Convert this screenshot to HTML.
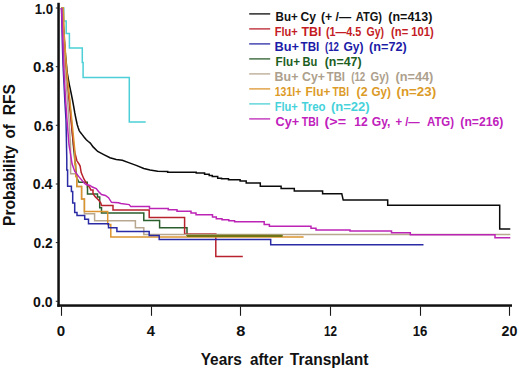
<!DOCTYPE html>
<html><head><meta charset="utf-8"><style>
html,body{margin:0;padding:0;background:#fff;}
svg{display:block;}
text{font-family:"Liberation Sans",sans-serif;font-weight:bold;}
.leg text{font-size:12px;stroke-width:0px;}
.yl{font-size:14px;fill:#111;}
.xl{font-size:14px;fill:#111;}
.curves polyline{fill:none;stroke-width:1.5;stroke-linejoin:miter;}
</style></head><body>
<svg width="520" height="372" viewBox="0 0 520 372">
<rect width="520" height="372" fill="#fff"/>
<g class="curves">
<polyline points="61.5,8.0 62.8,20.0 63.8,32.0 64.7,45.0 65.6,56.0 66.4,64.0 67.1,72.0 68.3,79.0 69.5,85.3 71.0,92.5 72.5,100.0 73.6,106.0 74.8,113.0 76.0,119.0 77.2,124.5 78.2,127.8 79.2,130.6 80.7,132.8 82.2,134.6 84.2,137.2 86.3,139.7 88.3,141.5 90.3,143.1 93.1,146.9 97.7,151.5 103.8,154.6 110.0,157.7 116.2,159.5 122.3,160.3 130.0,163.1 136.2,165.4 143.8,168.5 150.0,170.0 157.7,171.2 167.7,171.4 167.7,171.4 167.7,172.2 196.2,172.2 196.2,173.1 204.6,173.1 204.6,174.2 209.2,174.2 209.2,175.4 212.3,175.4 212.3,176.5 217.7,176.5 217.7,178.2 221.5,178.2 221.5,178.8 228.5,178.8 228.5,179.7 240.1,179.7 240.1,181.0 246.2,181.0 246.2,183.1 260.3,183.1 260.3,186.2 281.1,186.2 281.1,188.6 294.3,188.6 294.3,190.9 322.6,190.9 322.6,193.8 341.8,193.8 341.8,193.8 343.2,200.1 387.7,200.1 387.7,205.3 499.7,205.3 499.7,229.0 510.3,229.0" stroke="#0a0a0a" stroke-width="1.65"/>
<polyline points="61.5,8.0 63.8,8.0 63.8,21.0 66.2,21.0 66.2,33.6 69.4,33.6 69.4,47.9 82.3,47.9 82.3,62.5 83.1,62.5 83.1,77.4 129.3,77.4 129.3,122.0 145.7,122.0" stroke="#4ccfd6"/>
<polyline points="61.5,8.0 62.4,8.0 63.1,20.0 63.6,32.0 64.5,45.0 65.8,64.0 67.3,80.0 69.5,100.0 71.3,120.0 73.3,145.0 75.3,165.0 76.9,178.0 79.0,182.3 87.3,182.3 87.3,187.0 87.5,187.0 87.5,194.0 97.5,194.0 97.5,197.0 99.7,197.0 99.7,207.7 101.5,207.7 101.5,213.0 143.8,213.0 143.8,220.4 159.6,220.4 159.6,227.7 187.0,227.7 187.0,235.6 282.5,235.6" stroke="#2a5e2c"/>
<polyline points="61.5,8.0 62.6,8.0 63.2,20.0 63.5,32.0 64.3,45.0 65.6,64.0 67.0,80.0 69.0,100.0 71.0,120.0 72.5,135.0 74.2,150.0 76.9,160.8 79.0,164.0 80.1,166.1 81.2,172.6 83.9,179.0 87.1,184.4 89.8,187.6 90.8,190.0 93.0,190.0 93.0,193.8 95.4,196.9 97.0,198.5 99.2,200.8 100.8,203.0 101.5,205.4 113.0,205.4 113.0,210.0 149.2,210.0 149.2,217.5 184.6,217.5 184.6,234.0 215.8,234.0 215.8,256.5 242.8,256.5" stroke="#b8222c"/>
<polyline points="61.5,8.0 62.2,8.0 62.8,20.0 63.0,32.0 63.6,45.0 64.5,64.0 66.0,80.0 67.5,100.0 69.0,120.0 70.5,145.0 70.6,150.0 70.6,150.0 70.6,173.8 75.8,173.8 75.8,176.5 76.8,176.5 76.8,186.5 81.6,186.5 81.6,199.0 84.4,199.0 84.4,213.8 94.6,213.8 94.6,220.8 135.4,220.8 135.4,227.7 143.8,227.7 143.8,234.4 510.3,234.4" stroke="#b8a890"/>
<polyline points="61.5,8.0 63.3,8.0 63.9,20.0 64.0,32.0 65.0,45.0 66.2,64.0 67.6,80.0 69.8,100.0 71.8,120.0 74.3,145.0 74.8,150.0 74.8,150.0 74.8,164.0 75.8,164.0 75.8,176.5 76.8,176.5 76.8,186.5 81.6,186.5 81.6,199.0 84.4,199.0 84.4,211.5 107.7,211.5 107.7,224.6 110.8,224.6 110.8,237.1 303.6,237.1" stroke="#dc9430"/>
<polyline points="61.5,8.0 61.8,20.0 62.1,32.0 62.4,45.0 63.0,64.0 63.8,80.0 64.8,100.0 66.0,120.0 66.5,145.0 66.8,160.0 66.8,170.0 67.6,170.0 67.6,170.0 67.6,186.2 71.4,186.2 71.4,191.5 72.7,191.5 72.7,203.0 74.7,203.0 74.7,212.5 77.0,212.5 77.0,215.5 84.7,215.5 84.7,219.2 88.5,219.2 88.5,223.8 108.5,223.8 108.5,227.7 116.9,227.7 116.9,231.5 149.2,231.5 149.2,235.6 159.2,235.6 159.2,239.6 270.7,239.6 270.7,244.8 423.5,244.8" stroke="#2b2ba6"/>
<polyline points="61.5,8.0 62.0,20.0 62.5,32.0 63.0,45.0 63.6,64.0 64.4,80.0 65.6,100.0 67.0,120.0 69.0,145.0 69.9,150.0 72.1,164.0 74.8,171.5 79.0,176.9 84.4,183.3 86.2,184.6 90.0,185.4 92.3,187.0 96.2,188.5 98.5,191.5 101.5,194.6 105.4,195.4 108.5,197.7 111.5,202.3 118.5,202.8 120.8,203.5 129.2,204.6 130.8,206.6 149.5,206.6 149.5,208.5 168.3,208.5 168.3,209.8 177.0,209.8 177.0,211.2 191.0,211.2 191.0,213.0 196.0,213.0 196.0,214.8 212.5,214.8 212.5,217.1 216.3,217.1 216.3,218.7 222.0,218.7 222.0,219.8 228.8,219.8 228.8,220.8 234.6,220.8 234.6,221.8 264.2,221.8 264.2,224.6 269.4,224.6 269.4,226.3 311.0,226.3 311.0,228.2 316.0,228.2 316.0,229.9 350.0,229.9 350.0,231.0 391.5,231.0 391.5,232.7 410.3,232.7 410.3,234.8 495.0,234.8 495.0,237.8 510.3,237.8" stroke="#bc24b6"/>
<line x1="187" y1="235.9" x2="282.5" y2="235.9" stroke="#6f7514" stroke-width="2.4"/>
</g>
<rect x="57.3" y="2.8" width="2.5" height="304" fill="#111"/>
<rect x="57.3" y="304.3" width="454.7" height="2.5" fill="#111"/>
<line x1="55.8" y1="8.0" x2="58" y2="8.0" stroke="#222" stroke-width="1"/>
<text class="yl" x="34.66" y="14.3" textLength="18.39" lengthAdjust="spacingAndGlyphs">1.0</text>
<line x1="55.8" y1="66.7" x2="58" y2="66.7" stroke="#222" stroke-width="1"/>
<text class="yl" x="32.94" y="72.1" textLength="20.76" lengthAdjust="spacingAndGlyphs">0.8</text>
<line x1="55.8" y1="125.3" x2="58" y2="125.3" stroke="#222" stroke-width="1"/>
<text class="yl" x="33.74" y="130.7" textLength="19.76" lengthAdjust="spacingAndGlyphs">0.6</text>
<line x1="55.8" y1="184.0" x2="58" y2="184.0" stroke="#222" stroke-width="1"/>
<text class="yl" x="32.79" y="189.4" textLength="19.67" lengthAdjust="spacingAndGlyphs">0.4</text>
<line x1="55.8" y1="242.6" x2="58" y2="242.6" stroke="#222" stroke-width="1"/>
<text class="yl" x="33.56" y="248.0" textLength="19.13" lengthAdjust="spacingAndGlyphs">0.2</text>
<line x1="55.8" y1="301.3" x2="58" y2="301.3" stroke="#222" stroke-width="1"/>
<text class="yl" x="33.14" y="306.7" textLength="19.55" lengthAdjust="spacingAndGlyphs">0.0</text>
<line x1="61.5" y1="306.5" x2="61.5" y2="315.8" stroke="#1a1a1a" stroke-width="1.1"/>
<text class="xl" x="56.87" y="335.6" textLength="8.40" lengthAdjust="spacingAndGlyphs">0</text>
<line x1="151.5" y1="306.5" x2="151.5" y2="315.8" stroke="#1a1a1a" stroke-width="1.1"/>
<text class="xl" x="146.80" y="335.6" textLength="8.19" lengthAdjust="spacingAndGlyphs">4</text>
<line x1="240.5" y1="306.5" x2="240.5" y2="315.8" stroke="#1a1a1a" stroke-width="1.1"/>
<text class="xl" x="236.20" y="335.6" textLength="9.12" lengthAdjust="spacingAndGlyphs">8</text>
<line x1="330.5" y1="306.5" x2="330.5" y2="315.8" stroke="#1a1a1a" stroke-width="1.1"/>
<text class="xl" x="324.12" y="335.6" textLength="12.99" lengthAdjust="spacingAndGlyphs">12</text>
<line x1="420.5" y1="306.5" x2="420.5" y2="315.8" stroke="#1a1a1a" stroke-width="1.1"/>
<text class="xl" x="412.66" y="335.6" textLength="14.68" lengthAdjust="spacingAndGlyphs">16</text>
<line x1="509.5" y1="306.5" x2="509.5" y2="315.8" stroke="#1a1a1a" stroke-width="1.1"/>
<text class="xl" x="501.60" y="335.6" textLength="15.80" lengthAdjust="spacingAndGlyphs">20</text>
<g class="leg">
<line x1="249.2" y1="13.9" x2="270.2" y2="13.9" stroke="#0a0a0a" stroke-width="1.3"/>
<text x="275.62" y="20.6" fill="#111111" stroke="#111111" textLength="22.20" lengthAdjust="spacingAndGlyphs" xml:space="preserve">Bu+</text>
<text x="300.40" y="20.6" fill="#111111" stroke="#111111" textLength="15.53" lengthAdjust="spacingAndGlyphs" xml:space="preserve">Cy</text>
<text x="320.99" y="20.6" fill="#111111" stroke="#111111" textLength="30.08" lengthAdjust="spacingAndGlyphs" xml:space="preserve">(+ /—</text>
<text x="355.80" y="20.6" fill="#111111" stroke="#111111" textLength="26.20" lengthAdjust="spacingAndGlyphs" xml:space="preserve">ATG)</text>
<text x="388.37" y="20.6" fill="#111111" stroke="#111111" textLength="44.00" lengthAdjust="spacingAndGlyphs" xml:space="preserve">(n=413)</text>
<line x1="249.2" y1="28.9" x2="270.2" y2="28.9" stroke="#b8222c" stroke-width="1.3"/>
<text x="274.70" y="35.6" fill="#c41c24" stroke="#c41c24" textLength="23.11" lengthAdjust="spacingAndGlyphs" xml:space="preserve">Flu+</text>
<text x="301.40" y="35.6" fill="#c41c24" stroke="#c41c24" textLength="19.95" lengthAdjust="spacingAndGlyphs" xml:space="preserve">TBI</text>
<text x="325.89" y="35.6" fill="#c41c24" stroke="#c41c24" textLength="35.44" lengthAdjust="spacingAndGlyphs" xml:space="preserve">(1—4.5</text>
<text x="366.60" y="35.6" fill="#c41c24" stroke="#c41c24" textLength="17.41" lengthAdjust="spacingAndGlyphs" xml:space="preserve">Gy)</text>
<text x="391.05" y="35.6" fill="#c41c24" stroke="#c41c24" textLength="42.80" lengthAdjust="spacingAndGlyphs" xml:space="preserve">(n= 101)</text>
<line x1="249.2" y1="43.9" x2="270.2" y2="43.9" stroke="#2b2ba6" stroke-width="1.3"/>
<text x="274.57" y="50.6" fill="#1c1ca8" stroke="#1c1ca8" textLength="24.45" lengthAdjust="spacingAndGlyphs" xml:space="preserve">Bu+</text>
<text x="300.60" y="50.6" fill="#1c1ca8" stroke="#1c1ca8" textLength="18.72" lengthAdjust="spacingAndGlyphs" xml:space="preserve">TBI</text>
<text x="324.96" y="50.6" fill="#1c1ca8" stroke="#1c1ca8" textLength="13.93" lengthAdjust="spacingAndGlyphs" xml:space="preserve">(12</text>
<text x="343.40" y="50.6" fill="#1c1ca8" stroke="#1c1ca8" textLength="20.01" lengthAdjust="spacingAndGlyphs" xml:space="preserve">Gy)</text>
<text x="369.11" y="50.6" fill="#1c1ca8" stroke="#1c1ca8" textLength="37.63" lengthAdjust="spacingAndGlyphs" xml:space="preserve">(n=72)</text>
<line x1="249.2" y1="58.9" x2="270.2" y2="58.9" stroke="#2a5e2c" stroke-width="1.3"/>
<text x="275.61" y="65.6" fill="#1c5e1e" stroke="#1c5e1e" textLength="24.40" lengthAdjust="spacingAndGlyphs" xml:space="preserve">Flu+</text>
<text x="302.61" y="65.6" fill="#1c5e1e" stroke="#1c5e1e" textLength="14.79" lengthAdjust="spacingAndGlyphs" xml:space="preserve">Bu</text>
<text x="324.73" y="65.6" fill="#1c5e1e" stroke="#1c5e1e" textLength="36.81" lengthAdjust="spacingAndGlyphs" xml:space="preserve">(n=47)</text>
<line x1="249.2" y1="73.9" x2="270.2" y2="73.9" stroke="#b8a890" stroke-width="1.3"/>
<text x="274.58" y="80.6" fill="#ada08c" stroke="#ada08c" textLength="23.83" lengthAdjust="spacingAndGlyphs" xml:space="preserve">Bu+</text>
<text x="302.00" y="80.6" fill="#ada08c" stroke="#ada08c" textLength="22.96" lengthAdjust="spacingAndGlyphs" xml:space="preserve">Cy+</text>
<text x="326.80" y="80.6" fill="#ada08c" stroke="#ada08c" textLength="18.11" lengthAdjust="spacingAndGlyphs" xml:space="preserve">TBI</text>
<text x="351.16" y="80.6" fill="#ada08c" stroke="#ada08c" textLength="14.13" lengthAdjust="spacingAndGlyphs" xml:space="preserve">(12</text>
<text x="370.60" y="80.6" fill="#ada08c" stroke="#ada08c" textLength="18.41" lengthAdjust="spacingAndGlyphs" xml:space="preserve">Gy)</text>
<text x="395.50" y="80.6" fill="#ada08c" stroke="#ada08c" textLength="37.86" lengthAdjust="spacingAndGlyphs" xml:space="preserve">(n=44)</text>
<line x1="249.2" y1="88.9" x2="270.2" y2="88.9" stroke="#dc9430" stroke-width="1.3"/>
<text x="274.75" y="95.6" fill="#dc9a26" stroke="#dc9a26" textLength="26.57" lengthAdjust="spacingAndGlyphs" xml:space="preserve">131I+</text>
<text x="305.60" y="95.6" fill="#dc9a26" stroke="#dc9a26" textLength="24.81" lengthAdjust="spacingAndGlyphs" xml:space="preserve">Flu+</text>
<text x="332.60" y="95.6" fill="#dc9a26" stroke="#dc9a26" textLength="16.49" lengthAdjust="spacingAndGlyphs" xml:space="preserve">TBI</text>
<text x="356.53" y="95.6" fill="#dc9a26" stroke="#dc9a26" textLength="10.98" lengthAdjust="spacingAndGlyphs" xml:space="preserve">(2</text>
<text x="371.40" y="95.6" fill="#dc9a26" stroke="#dc9a26" textLength="19.41" lengthAdjust="spacingAndGlyphs" xml:space="preserve">Gy)</text>
<text x="396.49" y="95.6" fill="#dc9a26" stroke="#dc9a26" textLength="39.68" lengthAdjust="spacingAndGlyphs" xml:space="preserve">(n=23)</text>
<line x1="249.2" y1="103.9" x2="270.2" y2="103.9" stroke="#4ccfd6" stroke-width="1.3"/>
<text x="274.70" y="110.6" fill="#46d2da" stroke="#46d2da" textLength="23.11" lengthAdjust="spacingAndGlyphs" xml:space="preserve">Flu+</text>
<text x="301.40" y="110.6" fill="#46d2da" stroke="#46d2da" textLength="24.13" lengthAdjust="spacingAndGlyphs" xml:space="preserve">Treo</text>
<text x="330.91" y="110.6" fill="#46d2da" stroke="#46d2da" textLength="38.63" lengthAdjust="spacingAndGlyphs" xml:space="preserve">(n=22)</text>
<line x1="249.2" y1="118.9" x2="270.2" y2="118.9" stroke="#bc24b6" stroke-width="1.3"/>
<text x="275.60" y="125.6" fill="#c020bc" stroke="#c020bc" textLength="23.58" lengthAdjust="spacingAndGlyphs" xml:space="preserve">Cy+</text>
<text x="301.80" y="125.6" fill="#c020bc" stroke="#c020bc" textLength="16.89" lengthAdjust="spacingAndGlyphs" xml:space="preserve">TBI</text>
<text x="324.56" y="125.6" fill="#c020bc" stroke="#c020bc" textLength="21.46" lengthAdjust="spacingAndGlyphs" xml:space="preserve">(&gt;=</text>
<text x="354.36" y="125.6" fill="#c020bc" stroke="#c020bc" textLength="13.42" lengthAdjust="spacingAndGlyphs" xml:space="preserve">12</text>
<text x="371.80" y="125.6" fill="#c020bc" stroke="#c020bc" textLength="18.64" lengthAdjust="spacingAndGlyphs" xml:space="preserve">Gy,</text>
<text x="395.40" y="125.6" fill="#c020bc" stroke="#c020bc" textLength="24.31" lengthAdjust="spacingAndGlyphs" xml:space="preserve">+ /—</text>
<text x="427.00" y="125.6" fill="#c020bc" stroke="#c020bc" textLength="27.02" lengthAdjust="spacingAndGlyphs" xml:space="preserve">ATG)</text>
<text x="460.39" y="125.6" fill="#c020bc" stroke="#c020bc" textLength="42.97" lengthAdjust="spacingAndGlyphs" xml:space="preserve">(n=216)</text>
</g>
<text x="200.63" y="365.3" style="font-size:16.5px;fill:#111" textLength="41.18" lengthAdjust="spacingAndGlyphs">Years</text>
<text x="250.00" y="365.3" style="font-size:16.5px;fill:#111" textLength="33.19" lengthAdjust="spacingAndGlyphs">after</text>
<text x="289.80" y="365.3" style="font-size:16.5px;fill:#111" textLength="78.61" lengthAdjust="spacingAndGlyphs">Transplant</text>
<text transform="translate(14.9,225.00) rotate(-90)" x="-0.95" y="0" style="font-size:16.5px;fill:#111" textLength="80.60" lengthAdjust="spacingAndGlyphs">Probability</text>
<text transform="translate(14.9,137.70) rotate(-90)" x="-0.93" y="0" style="font-size:16.5px;fill:#111" textLength="14.34" lengthAdjust="spacingAndGlyphs">of</text>
<text transform="translate(14.9,114.30) rotate(-90)" x="-0.92" y="0" style="font-size:16.5px;fill:#111" textLength="31.12" lengthAdjust="spacingAndGlyphs">RFS</text>
</svg>
</body></html>
